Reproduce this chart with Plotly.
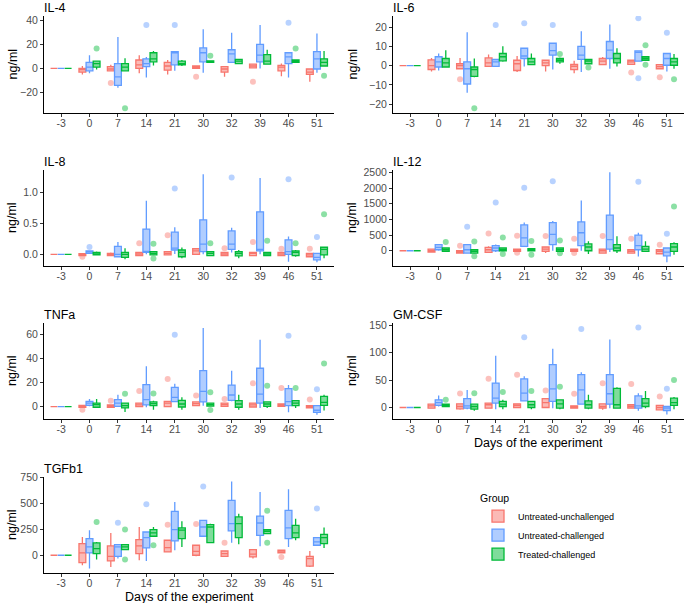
import plotly.graph_objects as go

# ---------------- data ----------------
DAYS = ["-3", "0", "7", "14", "21", "30", "32", "39", "46", "51"]
GROUPS = ["Untreated-unchallenged", "Untreated-challenged", "Treated-challenged"]
COLORS = [(248, 118, 109), (97, 156, 255), (0, 186, 56)]

# per day: (lower whisker, q1, median, q3, upper whisker)
Z = (0, 0, 0, 0, 0)
IL4_UU = [Z, (-5, -3, -1, 0, 2), (-2, -2, -0.5, 1.5, 3), (-4, 0, 3, 7, 11), (-5, -1.5, 2, 5, 7),
          (0, 0, 1, 2, 2), (-7, -3, -0.5, 1.5, 1.5), (0.5, 0.5, 2, 3.5, 4), (-6.5, -2, 1, 2.5, 4), (-11, -5, -3, -0.5, 0)]
IL4_UC = [Z, (-4, -2, 1, 5, 11), (-16, -14, -7, 4, 26), (-7.5, 1.5, 4, 8, 9.5), (-2, 3, 13, 14, 14),
          (-3.5, 5.5, 13, 17, 32.5), (5, 5, 12, 15.5, 29.5), (0, 5.5, 11, 20, 36), (-7.5, 4, 9.5, 13, 13), (-3.5, -0.5, 8, 14, 29)]
IL4_TC = [Z, (-1, 1, 4, 6, 6), (-2, -2, 1, 4, 8.5), (2.5, 5.5, 8, 13, 14.5), (2, 3, 4, 6, 7),
          (5, 5, 5.5, 6.3, 6.3), (3.5, 4, 6, 7.5, 8), (3, 3.5, 6, 11.5, 15.5), (5, 5, 6, 7, 7), (2, 2, 5, 8, 14.5)]
IL4_OUT = [(0, 2, -12), (0, 5, -7), (0, 7, -11), (1, 3, 36), (1, 4, 36), (1, 8, 38),
           (2, 1, 16.5), (2, 2, -33), (2, 5, 10.5), (2, 8, 16.5), (2, 9, -6)]

IL6_UU = [Z, (-3, -2, 0, 3, 4), (-1.6, -1.6, 0, 1, 4), (-0.4, -0.4, 1.4, 4, 5.8), (-3.3, -2.5, 1, 2.8, 5),
          (-3, 0, 1.4, 2.8, 2.8), (-3.9, -2.1, -0.3, 0.7, 2.5), (0.5, 0.5, 2.3, 3.7, 4.5), (0.7, 0.7, 2, 2.8, 3.2), (-1.6, -1.6, -0.5, 0.5, 0.5)]
IL6_UC = [Z, (-2.5, -0.7, 2, 4.6, 6.3), (-14, -9.5, -1.6, 2, 17.3), (-0.4, -0.4, 2, 3.2, 3.2), (-0.4, 3.7, 5, 9, 9),
          (-2, 5.5, 7.8, 11.6, 12), (-3.3, 3.3, 5.5, 10, 17.8), (-1.6, 3.7, 8, 12.5, 21.3), (2.3, 2.3, 6.9, 7.6, 8), (-3, 0.2, 3.7, 6.3, 6.7)]
IL6_TC = [Z, (-1, -0.7, 1.4, 3.7, 8), (-6, -5.5, -2, -0.7, 3.7), (2, 2.5, 4.6, 6.3, 10), (0.5, 0.5, 2, 3.7, 6.3),
          (1, 2, 2.8, 3.7, 4.2), (1, 1, 2.3, 3.2, 3.5), (-0.4, 1.4, 3.7, 6.3, 9), (2.8, 2.8, 3.7, 4.6, 4.6), (-1.6, 0.2, 2, 3.7, 6)]
IL6_OUT = [(0, 2, -7), (0, 8, -3.5), (0, 9, -6), (1, 3, 21), (1, 4, 22), (1, 5, 21), (1, 8, 24.5), (1, 8, -6.5),
           (1, 9, 17), (2, 2, -22), (2, 5, 6), (2, 6, -1), (2, 8, 10.5), (2, 8, 0.5), (2, 9, -7)]

IL8_UU = [Z, (-0.03, -0.02, 0, 0.01, 0.01), (-0.02, -0.02, 0, 0.015, 0.03), (-0.02, -0.02, 0.005, 0.03, 0.03),
          (-0.01, -0.01, 0.015, 0.045, 0.045), (0, 0, 0.055, 0.09, 0.1), (-0.02, -0.02, 0.005, 0.03, 0.03),
          (-0.02, -0.02, 0.015, 0.03, 0.03), (-0.02, -0.02, 0.005, 0.03, 0.03), (-0.05, -0.04, -0.01, 0.015, 0.015)]
IL8_UC = [Z, (0.015, 0.015, 0.045, 0.055, 0.055), (-0.04, -0.04, 0, 0.13, 0.2), (0, 0.03, 0.045, 0.41, 0.87),
          (0.005, 0.07, 0.1, 0.36, 0.44), (0, 0.045, 0.165, 0.56, 1.3), (0.03, 0.08, 0.165, 0.38, 0.43),
          (0, 0.055, 0.08, 0.69, 1.24), (-0.12, 0, 0.045, 0.235, 0.29), (-0.13, -0.09, -0.05, 0.015, 0.015)]
IL8_TC = [Z, (-0.01, -0.01, 0.005, 0.03, 0.045), (-0.08, -0.05, 0, 0.03, 0.1), (-0.01, -0.01, 0.015, 0.045, 0.045),
          (-0.065, -0.04, 0.03, 0.07, 0.11), (-0.02, -0.02, 0.015, 0.045, 0.045), (-0.065, -0.025, 0.015, 0.045, 0.07),
          (-0.02, -0.02, 0.005, 0.03, 0.03), (-0.04, -0.02, 0.03, 0.055, 0.07), (-0.065, -0.01, 0.08, 0.115, 0.12)]
IL8_OUT = [(0, 1, -0.04), (0, 3, 0.18), (0, 4, 0.31), (0, 6, 0.1), (0, 7, 0.2), (0, 8, 0.09), (0, 9, 0.09),
           (1, 1, 0.12), (1, 4, 1.07), (1, 6, 1.25), (1, 8, 1.22), (1, 9, 0.28),
           (2, 3, 0.17), (2, 3, -0.07), (2, 5, 0.18), (2, 7, 0.22), (2, 8, 0.18), (2, 9, 0.65)]

IL12_UU = [Z, (-43, -43, 0, 54, 54), (-76, -76, -43, 0, 0), (-76, -54, 32, 108, 140), (-22, -22, 32, 54, 54),
           (-76, -22, 54, 119, 119), (-22, -22, 22, 54, 54), (-76, -76, 0, 54, 54), (-76, -76, -22, 32, 32), (-97, -97, -22, 32, 32)]
IL12_UC = [Z, (0, 32, 108, 195, 216), (-97, -76, 32, 195, 216), (-43, 0, 87, 162, 195), (119, 140, 411, 822, 898),
           (0, 195, 519, 898, 952), (0, 162, 573, 920, 1600), (-43, 54, 357, 1136, 2500), (-184, 32, 162, 498, 573), (-368, -162, -43, 87, 87)]
IL12_TC = [Z, (-20, -20, 32, 87, 87), (-76, -76, -22, 32, 32), (0, 0, 32, 87, 87), (0, 0, 32, 65, 65),
           (-22, -22, 32, 87, 87), (-108, 0, 119, 216, 303), (-76, 0, 87, 195, 465), (-43, -22, 54, 140, 303), (-130, -22, 119, 227, 270)]
IL12_OUT = [(0, 2, 162), (0, 3, 552), (0, 4, 476), (0, 4, -65), (0, 5, 470), (0, 6, 379), (0, 6, -70), (0, 7, 470),
            (0, 8, 380), (0, 9, 190), (1, 2, 768), (1, 3, 1536), (1, 4, 2012), (1, 5, 2218), (1, 8, 2200), (1, 9, 540),
            (2, 1, 281), (2, 2, 292), (2, 2, -173), (2, 3, 422), (2, 3, -108), (2, 4, 310), (2, 4, -130),
            (2, 5, 325), (2, 5, -80), (2, 9, 1407)]

TNF_UU = [Z, (-1, -0.5, 0.3, 1, 1.5), (-0.5, -0.5, 0.3, 1.4, 1.4), (0, 0, 1.4, 3, 3), (0, 0, 3, 4.4, 4.4),
          (0.8, 0.8, 2.5, 3.9, 3.9), (0.3, 0.3, 1.7, 3, 3), (-0.3, -0.3, 1.4, 3, 3), (0.3, 0.3, 1.4, 2.2, 2.2), (-1.1, -1.1, 0, 0.8, 0.8)]
TNF_UC = [Z, (0.3, 1.1, 3, 4.4, 6.4), (0.3, 0.3, 3, 5.8, 10), (-0.5, 1.4, 5.8, 18.3, 33.6), (4.2, 4.2, 7.8, 16, 19),
          (0.8, 3.9, 12.8, 30, 65.5), (4.4, 5.3, 9.7, 18, 30), (-1.1, 3, 10.5, 32, 55.8), (-4.7, 0.8, 4.2, 15, 18), (-6.7, -4.7, -3, 0.8, 0.8)]
TNF_TC = [Z, (-0.5, -0.5, 1.7, 3, 6.4), (-4.4, -1.1, 0.8, 3, 3.5), (-2.5, 0.8, 2.5, 3.9, 5), (-2.5, -0.3, 2.2, 5.3, 7.8),
          (0.5, 0.5, 1.7, 3, 3), (-2.5, -0.5, 2.2, 5, 10), (-1.1, 0.3, 2.2, 3.9, 4.4), (-1.1, 0.8, 3, 5, 5), (-3.3, 1.1, 3.6, 8.6, 10)]
TNF_OUT = [(0, 1, -2.5), (0, 2, 5), (0, 3, 13), (0, 4, 23), (0, 5, 9.2), (0, 6, 6.4), (0, 7, 19.4), (0, 8, 15.6), (0, 9, 6),
           (1, 4, 60), (1, 8, 59), (1, 9, 14.4),
           (2, 2, 10.8), (2, 3, 11), (2, 5, 12), (2, 5, -2.8), (2, 7, 17.5), (2, 8, 15.5), (2, 9, 36)]

GM_UU = [Z, (-1.2, -1.2, 3, 6, 6), (-4.3, -2.4, 1.8, 6.7, 6.7), (-1.2, -1.2, 5, 8, 8), (0, 0, 3.7, 6.7, 6.7),
         (0, 0, 9, 16, 17), (-1.2, -1.2, 1.8, 3, 3), (-4.3, -1.2, 1.8, 6.7, 6.7), (-1.2, -1.2, 1.8, 5, 5), (-4.3, -4.3, 0, 3.7, 3.7)]
GM_UC = [Z, (1.8, 3.7, 9, 14, 22), (-3, -1.2, 3, 16, 32), (-3, 8, 17, 44.5, 94.5), (12, 12, 26, 52, 57),
         (-1.2, 11, 34, 78, 107), (6, 6, 32, 60, 64), (-1.2, 6, 25, 60, 124), (-6, -1.2, 3, 21, 26), (-13, -5.5, -1.2, 1.8, 1.8)]
GM_TC = [Z, (1.8, 1.8, 4.3, 6, 6), (-6, -3, 1.8, 6, 6), (-3, 1.8, 6, 11, 14), (-3, 0, 5, 11, 11),
         (-3, -1.2, 6.7, 14, 14), (-3, -1.2, 5, 12, 23), (-1.2, -1.2, 5, 35, 37), (-1.2, 1.8, 8, 16, 30), (-3, 3.7, 9, 17, 19)]
GM_OUT = [(0, 2, 25.6), (0, 3, 52.4), (0, 4, 59.8), (0, 5, 31), (0, 6, 25), (0, 7, 44), (0, 8, 43), (0, 9, 20),
          (1, 4, 128), (1, 6, 143), (1, 8, 146), (1, 9, 34),
          (2, 1, 14), (2, 2, 26), (2, 3, 28), (2, 4, 30), (2, 5, 37.8), (2, 9, 50)]

TGF_UU = [Z, (-96, -70, 22, 112, 175), (-112, -54, -10, 89, 214), (-48, 16, 89, 150, 271), (32, 32, 73, 144, 144),
          (-10, 0, 38, 96, 96), (-10, -10, 16, 41, 41), (-32, -16, 10, 54, 54), (22, 22, 32, 48, 48), (-112, -105, -32, -10, 41)]
TGF_UC = [Z, (-128, 22, 80, 160, 240), (-32, -10, 80, 102, 102), (-54, 70, 169, 223, 223), (48, 137, 246, 421, 510),
          (182, 182, 271, 335, 335), (121, 233, 303, 526, 708), (86, 191, 309, 376, 606), (80, 160, 262, 431, 632), (96, 96, 128, 169, 169)]
TGF_TC = [Z, (-41, 16, 64, 118, 128), (54, 54, 80, 102, 102), (182, 182, 214, 246, 271), (80, 160, 240, 262, 325),
          (121, 121, 271, 293, 303), (105, 169, 303, 367, 399), (207, 207, 230, 246, 246), (144, 169, 214, 287, 351), (70, 112, 169, 201, 265)]
TGF_OUT = [(0, 4, 293), (0, 5, 300), (0, 6, 121), (0, 8, -16),
           (1, 2, 312), (1, 3, 488), (1, 5, 660), (1, 9, 447),
           (2, 1, 319), (2, 2, 246), (2, 2, -41), (2, 3, 96), (2, 7, 427), (2, 7, 120)]

# name, boxes, outliers, y range, tick values, tick format, row, col, x title
PANELS = [
    ("IL-4", (IL4_UU, IL4_UC, IL4_TC), IL4_OUT, [-37, 43.5], [-20, 0, 20, 40], "", 0, 0, False),
    ("IL-6", (IL6_UU, IL6_UC, IL6_TC), IL6_OUT, [-24.5, 25.7], [-20, -10, 0, 10, 20], "", 0, 1, False),
    ("IL-8", (IL8_UU, IL8_UC, IL8_TC), IL8_OUT, [-0.19, 1.37], [0, 0.5, 1.0], ".1f", 1, 0, False),
    ("IL-12", (IL12_UU, IL12_UC, IL12_TC), IL12_OUT, [-487, 2575], [0, 500, 1000, 1500, 2000, 2500], "", 1, 1, False),
    ("TNFa", (TNF_UU, TNF_UC, TNF_TC), TNF_OUT, [-10.3, 69.7], [0, 20, 40, 60], "", 2, 0, False),
    ("GM-CSF", (GM_UU, GM_UC, GM_TC), GM_OUT, [-21, 154], [0, 50, 100, 150], "", 2, 1, True),
    ("TGFb1", (TGF_UU, TGF_UC, TGF_TC), TGF_OUT, [-170, 750], [0, 250, 500, 750], "", 3, 0, True),
]

# ---------------- layout geometry (pixels) ----------------
W, H = 685, 603
COL_X = [(44, 334), (393, 684)]
ROW_Y = [(16, 113), (170, 266), (323, 419), (477, 573)]
YTITLE_X = [12, 352]
OFF = [-0.25, 0.0, 0.25]
BOXW = 0.24
FONT = "Liberation Sans, Arial, Helvetica, sans-serif"


def rgba(c, a):
    return f"rgba({c[0]},{c[1]},{c[2]},{a})"


fig = go.Figure()
annotations = []
layout_axes = {}

for p, (name, boxes, outs, yr, tv, tf, r, c, xt) in enumerate(PANELS):
    n = "" if p == 0 else str(p + 1)
    xa, ya = "x" + n, "y" + n
    x0, x1 = COL_X[c]
    top, bot = ROW_Y[r]
    for g in range(3):
        data = boxes[g]
        fig.add_trace(go.Box(
            x=[i + OFF[g] for i in range(len(DAYS))],
            lowerfence=[d[0] for d in data], q1=[d[1] for d in data], median=[d[2] for d in data],
            q3=[d[3] for d in data], upperfence=[d[4] for d in data],
            width=BOXW, whiskerwidth=0, boxpoints=False,
            line=dict(color=rgba(COLORS[g], 1), width=1.3), fillcolor=rgba(COLORS[g], 0.5),
            name=GROUPS[g], legendgroup=GROUPS[g], showlegend=(p == 0),
            xaxis=xa, yaxis=ya, hoverinfo="skip"))
    for g in range(3):
        pts = [o for o in outs if o[0] == g]
        if pts:
            fig.add_trace(go.Scatter(
                x=[o[1] + OFF[g] for o in pts], y=[o[2] for o in pts], mode="markers",
                marker=dict(size=6, color=rgba(COLORS[g], 0.45), line=dict(width=0)),
                showlegend=False, xaxis=xa, yaxis=ya, hoverinfo="skip"))
    common = dict(showline=True, linecolor="black", linewidth=1, ticks="outside", ticklen=3,
                  tickwidth=1, tickcolor="#333333", showgrid=False, zeroline=False, automargin=False,
                  tickfont=dict(family=FONT, size=10.5, color="#4D4D4D"))
    layout_axes["xaxis" + n] = dict(common, domain=[x0 / W, x1 / W], anchor=ya, range=[-0.6, 9.6],
                                    tickmode="array", tickvals=list(range(len(DAYS))), ticktext=DAYS,
                                    ticklabelstandoff=-3)
    layout_axes["yaxis" + n] = dict(common, domain=[1 - bot / H, 1 - top / H], anchor=xa, range=yr,
                                    tickmode="array", tickvals=tv, tickformat=tf)
    annotations.append(dict(text=name, x=(x0 - 1) / W, y=1 - max(top - 16, 0) / H, xref="paper", yref="paper",
                            xanchor="left", yanchor="top", showarrow=False, borderpad=0,
                            font=dict(family=FONT, size=12.5, color="black")))
    annotations.append(dict(text="ng/ml", x=YTITLE_X[c] / W, y=1 - (top + bot) / 2 / H, xref="paper",
                            yref="paper", xanchor="center", yanchor="middle", textangle=-90, showarrow=False,
                            font=dict(family=FONT, size=12.5, color="black")))
    if xt:
        annotations.append(dict(text="Days of the experiment", x=(x0 + x1) / 2 / W, y=1 - (bot + 24) / H,
                                xref="paper", yref="paper", xanchor="center", yanchor="middle",
                                showarrow=False, font=dict(family=FONT, size=12.5, color="black")))

fig.update_layout(
    width=W, height=H, template="none", margin=dict(l=0, r=0, t=0, b=0),
    paper_bgcolor="white", plot_bgcolor="white", boxmode="overlay",
    font=dict(family=FONT, color="black"),
    annotations=annotations,
    legend=dict(x=478 / W, y=1 - 488 / H, xanchor="left", yanchor="top", bgcolor="rgba(0,0,0,0)",
                title=dict(text="Group", font=dict(family=FONT, size=10.5, color="black")),
                font=dict(family=FONT, size=9, color="black"), tracegroupgap=0),
    **layout_axes,
)

fig.write_html("out.html", config={"displayModeBar": False},
               post_script="document.body.style.margin='0';document.body.style.overflow='hidden';")
